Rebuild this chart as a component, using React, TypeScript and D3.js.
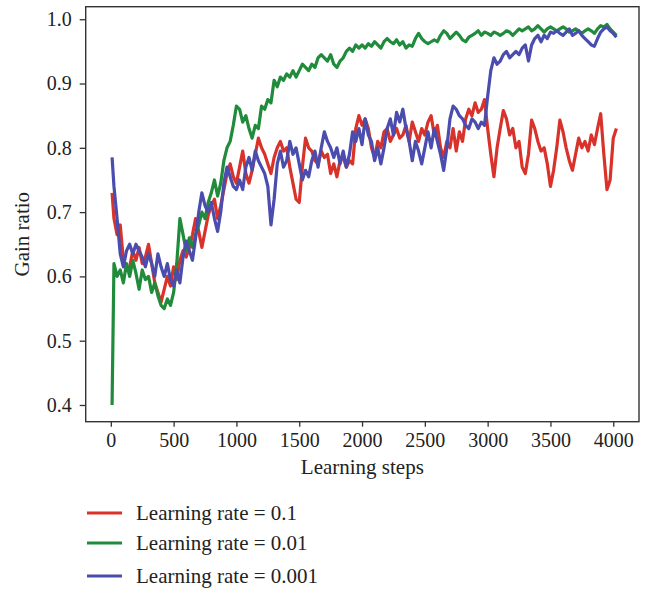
import React, { useEffect, useRef } from "react"
import * as d3 from "d3"

// x positions (learning steps) shared by all three runs
const steps = [10, ...d3.range(25, 4026, 25)]

const xTicks = [0, 500, 1000, 1500, 2000, 2500, 3000, 3500, 4000]
const yTicks = [0.4, 0.5, 0.6, 0.7, 0.8, 0.9, 1.0]

const labels = ["Learning rate = 0.1", "Learning rate = 0.01", "Learning rate = 0.001"]
const colors = ["#d8322a", "#1f8b3b", "#4a4cae"]

// gain ratio per run
const lr01 = [
	0.73,
	0.69, 0.665, 0.68, 0.625,
	0.61, 0.615, 0.64, 0.625,
	0.645, 0.62, 0.63, 0.65,
	0.62, 0.59, 0.575, 0.56,
	0.58, 0.6, 0.585, 0.615,
	0.595, 0.625, 0.64, 0.63,
	0.645, 0.665, 0.69, 0.67,
	0.645, 0.67, 0.695, 0.71,
	0.72, 0.69, 0.71, 0.735,
	0.76, 0.775, 0.755, 0.745,
	0.77, 0.795, 0.76, 0.745,
	0.765, 0.79, 0.815, 0.8,
	0.79, 0.775, 0.76, 0.785,
	0.8, 0.81, 0.795, 0.8,
	0.77, 0.745, 0.72, 0.715,
	0.77, 0.815, 0.8, 0.795,
	0.78, 0.775, 0.795, 0.785,
	0.79, 0.76, 0.775, 0.755,
	0.78, 0.785, 0.77, 0.78,
	0.775, 0.83, 0.85, 0.835,
	0.845, 0.83, 0.8, 0.785,
	0.81, 0.8, 0.825, 0.83,
	0.81, 0.82, 0.83, 0.815,
	0.82, 0.835, 0.81, 0.84,
	0.825, 0.81, 0.83, 0.82,
	0.84, 0.85, 0.82, 0.835,
	0.8, 0.785, 0.81, 0.8,
	0.83, 0.795, 0.825, 0.81,
	0.845, 0.86, 0.85, 0.87,
	0.855, 0.86, 0.875, 0.83,
	0.79, 0.755, 0.8, 0.83,
	0.858, 0.845, 0.82, 0.83,
	0.8, 0.81, 0.77, 0.76,
	0.79, 0.843, 0.83, 0.81,
	0.795, 0.8, 0.775, 0.74,
	0.765, 0.8, 0.843, 0.825,
	0.8, 0.78, 0.765, 0.79,
	0.815, 0.8, 0.81, 0.795,
	0.82, 0.805, 0.83, 0.853,
	0.79, 0.735, 0.75, 0.815,
	0.83,
]

const lr001 = [
	0.4,
	0.62, 0.6, 0.61, 0.59,
	0.62, 0.6, 0.625, 0.605,
	0.58, 0.61, 0.595, 0.6,
	0.575, 0.59, 0.57, 0.555,
	0.55, 0.565, 0.555, 0.575,
	0.62, 0.69, 0.665, 0.64,
	0.66, 0.645, 0.665, 0.68,
	0.7, 0.69, 0.715, 0.73,
	0.75, 0.725, 0.745, 0.78,
	0.8, 0.81, 0.835, 0.865,
	0.86, 0.84, 0.85, 0.83,
	0.815, 0.835, 0.83, 0.865,
	0.86, 0.875, 0.87, 0.905,
	0.895, 0.91, 0.905, 0.915,
	0.91, 0.92, 0.91, 0.92,
	0.93, 0.925, 0.92, 0.93,
	0.925, 0.94, 0.945, 0.94,
	0.935, 0.945, 0.93, 0.925,
	0.935, 0.94, 0.95, 0.955,
	0.95, 0.96, 0.955, 0.96,
	0.955, 0.962, 0.958, 0.965,
	0.96, 0.955, 0.965, 0.97,
	0.965, 0.962, 0.968, 0.96,
	0.965, 0.955, 0.96, 0.958,
	0.97, 0.978, 0.97, 0.965,
	0.962, 0.965, 0.968, 0.965,
	0.975, 0.982, 0.978, 0.97,
	0.975, 0.98, 0.975, 0.968,
	0.965, 0.972, 0.975, 0.978,
	0.982, 0.975, 0.98, 0.978,
	0.975, 0.98, 0.978, 0.975,
	0.978, 0.982, 0.98, 0.975,
	0.98, 0.985, 0.982, 0.985,
	0.988, 0.982, 0.985, 0.99,
	0.985, 0.98, 0.985, 0.988,
	0.985, 0.982, 0.985, 0.988,
	0.985, 0.98, 0.982, 0.985,
	0.982, 0.978, 0.982, 0.985,
	0.982, 0.978, 0.985, 0.99,
	0.988, 0.992, 0.985, 0.98,
	0.975,
]

const lr0001 = [
	0.785,
	0.74, 0.69, 0.635, 0.615,
	0.64, 0.65, 0.635, 0.65,
	0.64, 0.63, 0.615, 0.635,
	0.62, 0.6, 0.635, 0.615,
	0.6, 0.62, 0.595, 0.585,
	0.61, 0.59, 0.63, 0.655,
	0.64, 0.625, 0.66, 0.7,
	0.73, 0.71, 0.7, 0.715,
	0.69, 0.67, 0.7, 0.745,
	0.77, 0.755, 0.74, 0.735,
	0.75, 0.735, 0.77, 0.785,
	0.765, 0.795, 0.78, 0.77,
	0.76, 0.74, 0.68, 0.72,
	0.775, 0.795, 0.77, 0.78,
	0.81, 0.79, 0.8, 0.775,
	0.75, 0.765, 0.755, 0.78,
	0.795, 0.77, 0.8, 0.825,
	0.81, 0.8, 0.785, 0.8,
	0.775, 0.795, 0.77, 0.79,
	0.825, 0.81, 0.83, 0.805,
	0.845, 0.82, 0.81, 0.78,
	0.8, 0.775, 0.8, 0.83,
	0.845, 0.82, 0.855, 0.84,
	0.86, 0.83, 0.81, 0.78,
	0.81, 0.795, 0.775, 0.8,
	0.825, 0.8, 0.83, 0.81,
	0.79, 0.765, 0.8, 0.845,
	0.865, 0.86, 0.85, 0.845,
	0.835, 0.83, 0.845, 0.84,
	0.83, 0.84, 0.835, 0.88,
	0.92, 0.94, 0.93, 0.935,
	0.945, 0.95, 0.94, 0.945,
	0.95, 0.945, 0.955, 0.96,
	0.935, 0.96, 0.97, 0.975,
	0.965, 0.975, 0.97, 0.98,
	0.978, 0.982, 0.978, 0.975,
	0.98, 0.985, 0.975, 0.978,
	0.982, 0.975, 0.97, 0.965,
	0.96, 0.958, 0.97, 0.98,
	0.985, 0.988, 0.982, 0.978,
	0.972,
]

const runs = [lr01, lr001, lr0001]

const FONT = "'Liberation Serif', 'DejaVu Serif', serif"

export default function App() {
	const width = 663
	const height = 589

	/** Plot frame in pixels */
	const left = 85.7
	const right = 639
	const top = 6.7
	const bottom = 421.7

	const xScale = d3.scaleLinear().domain([-200, 4205]).range([left, right])
	const yScale = d3.scaleLinear().domain([0.374, 1.0195]).range([bottom, top])

	const lineGen = d3
		.line<[number, number]>()
		.x(d => xScale(d[0]))
		.y(d => yScale(d[1]))

	const xAxisRef = useRef<SVGGElement>(null)
	const yAxisRef = useRef<SVGGElement>(null)

	useEffect(() => {
		const xAxis = d3
			.axisBottom(xScale)
			.tickValues(xTicks)
			.tickFormat(d3.format("d"))
			.tickSizeInner(5)
			.tickSizeOuter(0)
			.tickPadding(6)
		const gx = d3.select(xAxisRef.current).call(xAxis)
		gx.select(".domain").remove()
		gx.selectAll("line").attr("stroke", "#333").attr("stroke-width", 1.3)
		gx.selectAll("text").attr("font-family", FONT).attr("font-size", 20).attr("fill", "#222")

		const yAxis = d3
			.axisLeft(yScale)
			.tickValues(yTicks)
			.tickFormat(d3.format(".1f"))
			.tickSizeInner(6)
			.tickSizeOuter(0)
			.tickPadding(8)
		const gy = d3.select(yAxisRef.current).call(yAxis)
		gy.select(".domain").remove()
		gy.selectAll("line").attr("stroke", "#333").attr("stroke-width", 1.3)
		gy.selectAll("text").attr("font-family", FONT).attr("font-size", 20).attr("fill", "#222")
	}, [])

	return (
		<svg width={width} height={height} style={{ position: "absolute", left: 0, top: 0, background: "#fff" }}>
			<g>
				{runs.map((vals, i) => {
					const pts = vals.map((v, j) => [steps[j], v] as [number, number]).filter(p => p[0] !== undefined)
					return (
						<path
							key={i}
							d={lineGen(pts) || ""}
							fill="none"
							stroke={colors[i]}
							strokeWidth={3.2}
							strokeLinejoin="round"
						/>
					)
				})}
			</g>
			<rect x={left} y={top} width={right - left} height={bottom - top} fill="none" stroke="#333" strokeWidth={1.4} />
			<g ref={xAxisRef} transform={`translate(0, ${bottom})`} />
			<g ref={yAxisRef} transform={`translate(${left}, 0)`} />
			<text x={(left + right) / 2} y={474} textAnchor="middle" fontFamily={FONT} fontSize={21} fill="#222">
				Learning steps
			</text>
			<text
				transform={`translate(29, ${(top + bottom) / 2 + 20}) rotate(-90)`}
				textAnchor="middle"
				fontFamily={FONT}
				fontSize={21}
				fill="#222"
			>
				Gain ratio
			</text>
			{labels.map((label, i) => {
				const ly = [513, 543, 576][i]
				return (
					<g key={label}>
						<line x1={87} x2={122} y1={ly} y2={ly} stroke={colors[i]} strokeWidth={3} />
						<text x={136} y={ly + 7} fontFamily={FONT} fontSize={21} fill="#222">
							{label}
						</text>
					</g>
				)
			})}
		</svg>
	)
}
